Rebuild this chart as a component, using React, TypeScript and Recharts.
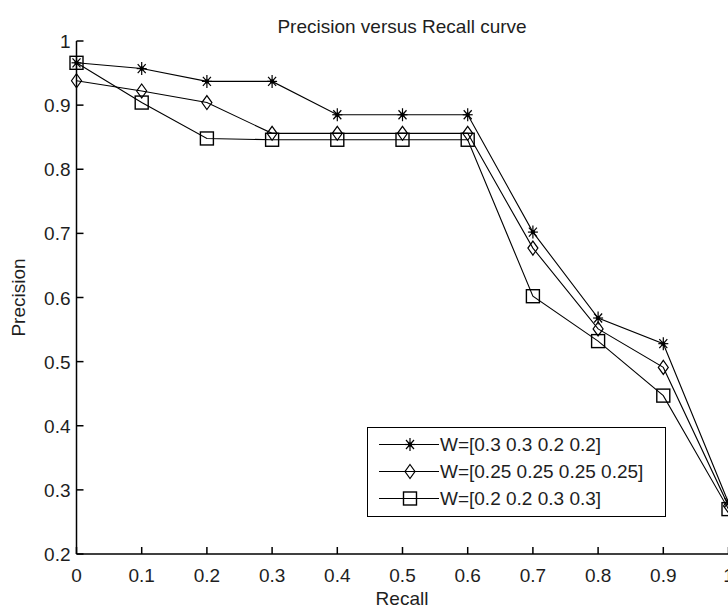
import React from "react";
import { LineChart, Line, XAxis, YAxis, Legend } from "recharts";

// recall levels on the x axis
const recall = [0, 0.1, 0.2, 0.3, 0.4, 0.5, 0.6, 0.7, 0.8, 0.9, 1];

// precision
const precisionW1 = [0.966, 0.957, 0.937, 0.937, 0.885, 0.885, 0.885, 0.702, 0.568, 0.528, 0.28];
const precisionW2 = [0.938, 0.922, 0.904, 0.856, 0.856, 0.856, 0.856, 0.677, 0.551, 0.491, 0.275];
const precisionW3 = [0.966, 0.904, 0.848, 0.846, 0.846, 0.846, 0.846, 0.602, 0.532, 0.447, 0.27];

const seriesNames = ["W=[0.3 0.3 0.2 0.2]", "W=[0.25 0.25 0.25 0.25]", "W=[0.2 0.2 0.3 0.3]"];

const xTicks = [0, 0.1, 0.2, 0.3, 0.4, 0.5, 0.6, 0.7, 0.8, 0.9, 1];
const yTicks = [0.2, 0.3, 0.4, 0.5, 0.6, 0.7, 0.8, 0.9, 1];

const data = recall.map((r, i) => ({
  recall: r,
  w1: precisionW1[i],
  w2: precisionW2[i],
  w3: precisionW3[i],
}));

const INK = "#000";
const TEXT = "#1e1e1e";
const FONT = '"Liberation Sans", Arial, sans-serif';
const FS = 19;
const TICK = 7;

type Kind = "star" | "diamond" | "square";
const markerByKey: Record<string, Kind> = { w1: "star", w2: "diamond", w3: "square" };
const keyOrder = ["w1", "w2", "w3"];

function marker(kind: Kind, cx: number, cy: number, key?: string) {
  if (cx == null || cy == null) return <g key={key} />;
  if (kind === "star") {
    return (
      <g key={key} stroke={INK} strokeWidth={1.2}>
        <line x1={cx} y1={cy - 6.5} x2={cx} y2={cy + 6.5} />
        <line x1={cx - 5} y1={cy} x2={cx + 5} y2={cy} />
        <line x1={cx - 4} y1={cy - 4.5} x2={cx + 4} y2={cy + 4.5} />
        <line x1={cx - 4} y1={cy + 4.5} x2={cx + 4} y2={cy - 4.5} />
        <circle cx={cx} cy={cy} r={1.6} fill={INK} />
      </g>
    );
  }
  if (kind === "diamond") {
    return (
      <polygon
        key={key}
        points={`${cx},${cy - 7} ${cx + 5},${cy} ${cx},${cy + 7} ${cx - 5},${cy}`}
        fill="none"
        stroke={INK}
        strokeWidth={1.2}
      />
    );
  }
  return (
    <rect key={key} x={cx - 6.5} y={cy - 6.5} width={13} height={13} fill="none" stroke={INK} strokeWidth={1.4} />
  );
}

const fmt = (v: number) => String(v);

function BottomTick(props: any) {
  const { x, y, payload } = props;
  return (
    <g>
      <line x1={x} y1={y} x2={x} y2={y - TICK} stroke={INK} strokeWidth={1.5} />
      <text x={x} y={y + 28} textAnchor="middle" fontSize={FS} fontFamily={FONT} fill={TEXT}>
        {fmt(payload.value)}
      </text>
    </g>
  );
}

function LeftTick(props: any) {
  const { x, y, payload } = props;
  return (
    <g>
      <line x1={x} y1={y} x2={x + TICK} y2={y} stroke={INK} strokeWidth={1.5} />
      <text x={x - 6} y={y + 7} textAnchor="end" fontSize={FS} fontFamily={FONT} fill={TEXT}>
        {fmt(payload.value)}
      </text>
    </g>
  );
}

function TopTick(props: any) {
  const { x, y } = props;
  return <line x1={x} y1={y} x2={x} y2={y + TICK} stroke={INK} strokeWidth={1.5} />;
}

function RightTick(props: any) {
  const { x, y } = props;
  return <line x1={x} y1={y} x2={x - TICK} y2={y} stroke={INK} strokeWidth={1.5} />;
}

function LegendBox(props: any) {
  const payload = [...(props.payload || [])].sort(
    (a: any, b: any) => keyOrder.indexOf(a.dataKey) - keyOrder.indexOf(b.dataKey)
  );
  return (
    <div
      style={{
        width: 299,
        height: 90,
        boxSizing: "border-box",
        border: "1.5px solid #000",
        background: "#fff",
        paddingTop: 3,
        fontFamily: FONT,
        fontSize: FS,
        color: TEXT,
      }}
    >
      {payload.map((entry: any) => (
        <div key={entry.value} style={{ display: "flex", alignItems: "center", height: 27 }}>
          <svg width={72} height={27} style={{ flex: "none" }}>
            <line x1={11} y1={13.5} x2={71} y2={13.5} stroke={INK} strokeWidth={1.2} />
            {marker(markerByKey[entry.dataKey], 42, 13.5)}
          </svg>
          <span style={{ whiteSpace: "nowrap", lineHeight: "27px" }}>{entry.value}</span>
        </div>
      ))}
    </div>
  );
}

export default function App() {
  const axisLine = { stroke: INK, strokeWidth: 1.5 };
  return (
    <div style={{ position: "relative", width: 728, height: 608, overflow: "hidden", background: "#fff" }}>
      <style>{`body{margin:0;background:#fff}`}</style>
      <LineChart width={740} height={608} data={data} margin={{ top: 41, right: 11.5, bottom: 24, left: 16.5 }}>
        <XAxis
          dataKey="recall"
          type="number"
          domain={[0, 1]}
          ticks={xTicks}
          interval={0}
          height={30}
          tickSize={0}
          tickMargin={0}
          tick={<BottomTick />}
          axisLine={axisLine}
        />
        <XAxis
          xAxisId="top"
          orientation="top"
          dataKey="recall"
          type="number"
          domain={[0, 1]}
          ticks={xTicks}
          interval={0}
          height={0}
          tickSize={0}
          tickMargin={0}
          tick={<TopTick />}
          axisLine={axisLine}
        />
        <YAxis
          type="number"
          domain={[0.2, 1]}
          ticks={yTicks}
          interval={0}
          width={60}
          tickSize={0}
          tickMargin={0}
          tick={<LeftTick />}
          axisLine={axisLine}
        />
        <YAxis
          yAxisId="right"
          orientation="right"
          type="number"
          domain={[0.2, 1]}
          ticks={yTicks}
          interval={0}
          width={0}
          tickSize={0}
          tickMargin={0}
          tick={<RightTick />}
          axisLine={axisLine}
        />
        <Legend
          layout="vertical"
          align="center"
          verticalAlign="middle"
          content={<LegendBox />}
          wrapperStyle={{ left: 367, top: 427, width: 299, height: 90 }}
        />
        <Line
          dataKey="w1"
          name={seriesNames[0]}
          stroke={INK}
          strokeWidth={1.1}
          dot={(p: any) => marker("star", p.cx, p.cy, `a${p.index}`)}
          activeDot={false}
          isAnimationActive={false}
        />
        <Line
          dataKey="w2"
          name={seriesNames[1]}
          stroke={INK}
          strokeWidth={1.1}
          dot={(p: any) => marker("diamond", p.cx, p.cy, `b${p.index}`)}
          activeDot={false}
          isAnimationActive={false}
        />
        <Line
          dataKey="w3"
          name={seriesNames[2]}
          stroke={INK}
          strokeWidth={1.1}
          dot={(p: any) => marker("square", p.cx, p.cy, `c${p.index}`)}
          activeDot={false}
          isAnimationActive={false}
        />
      </LineChart>
      <svg
        width={728}
        height={608}
        style={{ position: "absolute", left: 0, top: 0, pointerEvents: "none" }}
        fontFamily={FONT}
        fontSize={FS}
        fill={TEXT}
      >
        <text x={402} y={33} textAnchor="middle">
          Precision versus Recall curve
        </text>
        <text x={402} y={605} textAnchor="middle">
          Recall
        </text>
        <text transform="translate(25,297.5) rotate(-90)" textAnchor="middle">
          Precision
        </text>
      </svg>
    </div>
  );
}
